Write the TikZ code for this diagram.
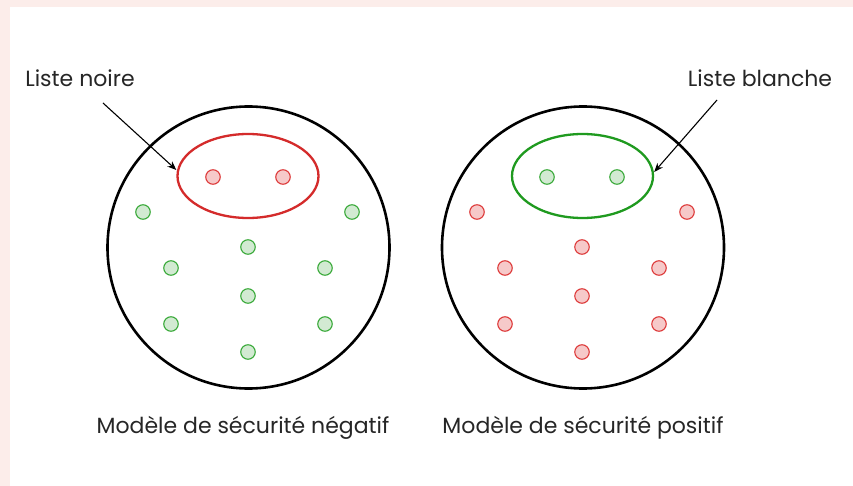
\documentclass[tikz,border=0pt]{standalone}
\usepackage{fontspec}
\setmainfont{Poppins}
\usetikzlibrary{arrows.meta,shapes.geometric}
\definecolor{edgepink}{HTML}{FCEDEA}
\definecolor{listred}{HTML}{D42B2B}
\definecolor{listgreen}{HTML}{1F9A1F}
\definecolor{dotred}{HTML}{DE3B3B}
\definecolor{dotredfill}{HTML}{F6C9C9}
\definecolor{dotgreen}{HTML}{3AAA3A}
\definecolor{dotgreenfill}{HTML}{D2EAD2}
\tikzset{
  universe/.style={circle, draw=black, line width=2.6pt, minimum size=282pt, inner sep=0pt},
  listshape/.style={ellipse, line width=2.3pt, minimum width=141pt, minimum height=84pt, inner sep=0pt},
  gooddot/.style={circle, draw=dotgreen, fill=dotgreenfill, line width=1.1pt, minimum size=14.5pt, inner sep=0pt},
  baddot/.style={circle, draw=dotred, fill=dotredfill, line width=1.1pt, minimum size=14.5pt, inner sep=0pt},
  pointer/.style={-{Stealth[length=9pt,width=7pt]}, line width=1.1pt},
  caption/.style={font=\fontsize{22}{26}\selectfont, text=black!85, inner sep=0pt}
}
\begin{document}
\begin{tikzpicture}[x=1pt,y=-1pt]
  % page and its faint coloured edge
  \fill[white] (0,0) rectangle (853,486);
  \fill[edgepink] (0,0) rectangle (853,7);
  \fill[edgepink] (0,0) rectangle (10,486);
  \useasboundingbox (0,0) rectangle (853,486);

  % negative model (blacklist)
  \node[universe] (uL) at (248.5,247.5) {};
  \node[listshape, draw=listred] (bl) at (248,176) {};
  \node[baddot] (b1) at (213,177) {};
  \node[baddot] (b2) at (283,177) {};
  \foreach \n/\x/\y in {g1/143/212, g2/352/212, g3/248/247, g4/171/268, g5/325/268,
                        g6/248/296, g7/171/324, g8/325/324, g9/248/352}
    \node[gooddot] (\n) at (\x,\y) {};

  % positive model (whitelist)
  \node[universe] (uR) at (583,247.5) {};
  \node[listshape, draw=listgreen] (wl) at (582.5,176) {};
  \node[gooddot] (w1) at (547,177) {};
  \node[gooddot] (w2) at (617,177) {};
  \foreach \n/\x/\y in {r1/477/212, r2/687/212, r3/582/247, r4/505/268, r5/659/268,
                        r6/582/296, r7/505/324, r8/659/324, r9/582/352}
    \node[baddot] (\n) at (\x,\y) {};

  % labels
  \node[caption] (tbl) at (80,78) {Liste noire};
  \node[caption] (twl) at (760,78) {Liste blanche};
  \node[caption] (capL) at (243,428) {Modèle de sécurité négatif};
  \node[caption] (capR) at (583,428) {Modèle de sécurité positif};

  % pointers
  \coordinate (pL) at (103,103);
  \coordinate (pR) at (717,100);
  \draw[pointer] (pL) -- (bl.west |- 0,170) ;
  \draw[pointer] (pR) -- (wl.east |- 0,172);
\end{tikzpicture}
\end{document}
